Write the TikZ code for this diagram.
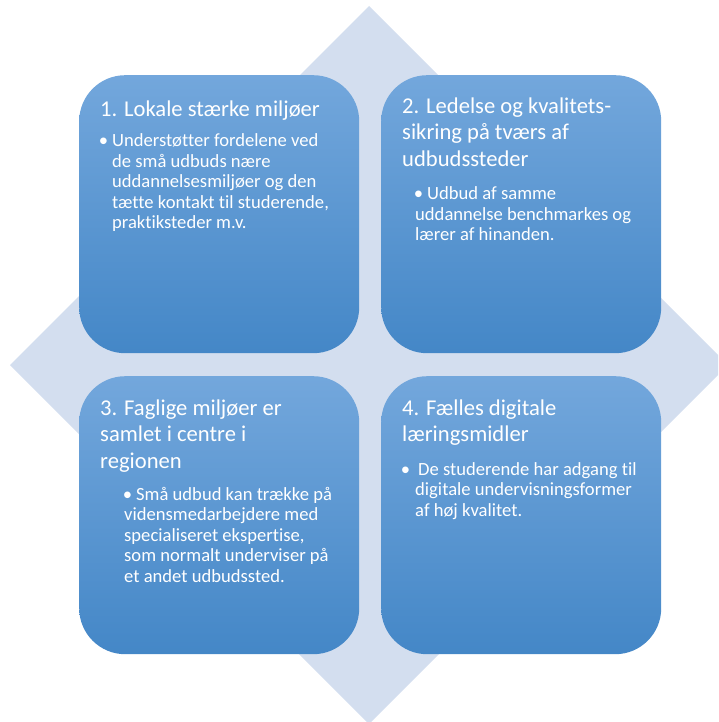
\documentclass[tikz,border=0pt]{standalone}
\usepackage{fontspec}
\setmainfont{Carlito}[Ligatures=NoCommon]
\definecolor{diamondblue}{HTML}{D3DEEF}
\definecolor{boxtop}{HTML}{73A7DC}
\definecolor{boxbottom}{HTML}{4487C7}
\newcommand{\bul}{\llap{\textbullet\hspace{4pt}}}
\begin{document}
\begin{tikzpicture}[
        x=1pt, y=-1pt,
        area/.style={rectangle, rounded corners=46pt, top color=boxtop, bottom color=boxbottom, minimum width=280pt, minimum height=278pt, inner sep=0pt, anchor=north west},
        heading/.style={anchor=north west, inner sep=0pt, align=left, text=white, font=\fontsize{22.6}{26.4}\selectfont, execute at begin node=\strut},
        body/.style={anchor=north west, inner sep=0pt, align=left, text=white, font=\fontsize{18.6}{20.5}\selectfont, execute at begin node=\strut}
    ]
        \useasboundingbox (0,0) rectangle (718,722);
        % Background diamond
        \begin{scope}
            \clip (0,0) rectangle (718,722);
            \fill[diamondblue] (369,6) -- (728,365) -- (369,724) -- (10,365) -- cycle;
        \end{scope}

        % The four boxes
        \node[area] (lokal) at (79,75) {};
        \node[area] (ledelse) at (381,75) {};
        \node[area] (faglig) at (79,376) {};
        \node[area] (digital) at (381,376) {};

        % Headings
        \node[heading] (lokal_title) at (100,97.5) {1. Lokale stærke miljøer};
        \node[heading] (ledelse_title) at (402,97.5) {2. Ledelse og kvalitets-\\sikring på tværs af\\udbudssteder};
        \node[heading] (faglig_title) at (100,399.5) {3. Faglige miljøer er\\samlet i centre i\\regionen};
        \node[heading] (digital_title) at (402,399.5) {4. Fælles digitale\\læringsmidler};

        % Bullet texts
        \node[body] (lokal_text) at (112,133.6) {\bul Understøtter fordelene ved\\de små udbuds nære\\uddannelsesmiljøer og den\\tætte kontakt til studerende,\\praktiksteder m.v.};
        \node[body] (ledelse_text) at (415,186.6) {\hspace*{12pt}\bul Udbud af samme\\uddannelse benchmarkes og\\lærer af hinanden.};
        \node[body] (faglig_text) at (124,487.1) {\hspace*{12pt}\bul Små udbud kan trække på\\vidensmedarbejdere med\\specialiseret ekspertise,\\som normalt underviser på\\et andet udbudssted.};
        \node[body] (digital_text) at (415,462.1) {\hspace*{3pt}\llap{\textbullet\hspace{8pt}}De studerende har adgang til\\digitale undervisningsformer\\af høj kvalitet.};

    \end{tikzpicture}
\end{document}
